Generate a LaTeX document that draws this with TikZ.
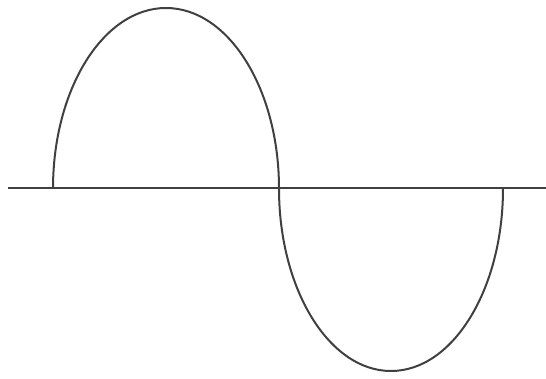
\documentclass[tikz,border=0pt]{standalone}
\usepackage{tikz}

\begin{document}
\begin{tikzpicture}[x=1pt,y=-1pt,wave/.style={black!75,line width=2pt}]
  \useasboundingbox (0,0) rectangle (546,379);
  \coordinate (left) at (8,188.5);
  \coordinate (right) at (546,188.5);
  \coordinate (start) at (53,188.5);
  \draw[wave] (left) -- (right);
  \draw[wave] (start) arc[start angle=180,end angle=360,x radius=113,y radius=180.5]
    arc[start angle=180,end angle=0,x radius=112,y radius=182.5];
\end{tikzpicture}
\end{document}
